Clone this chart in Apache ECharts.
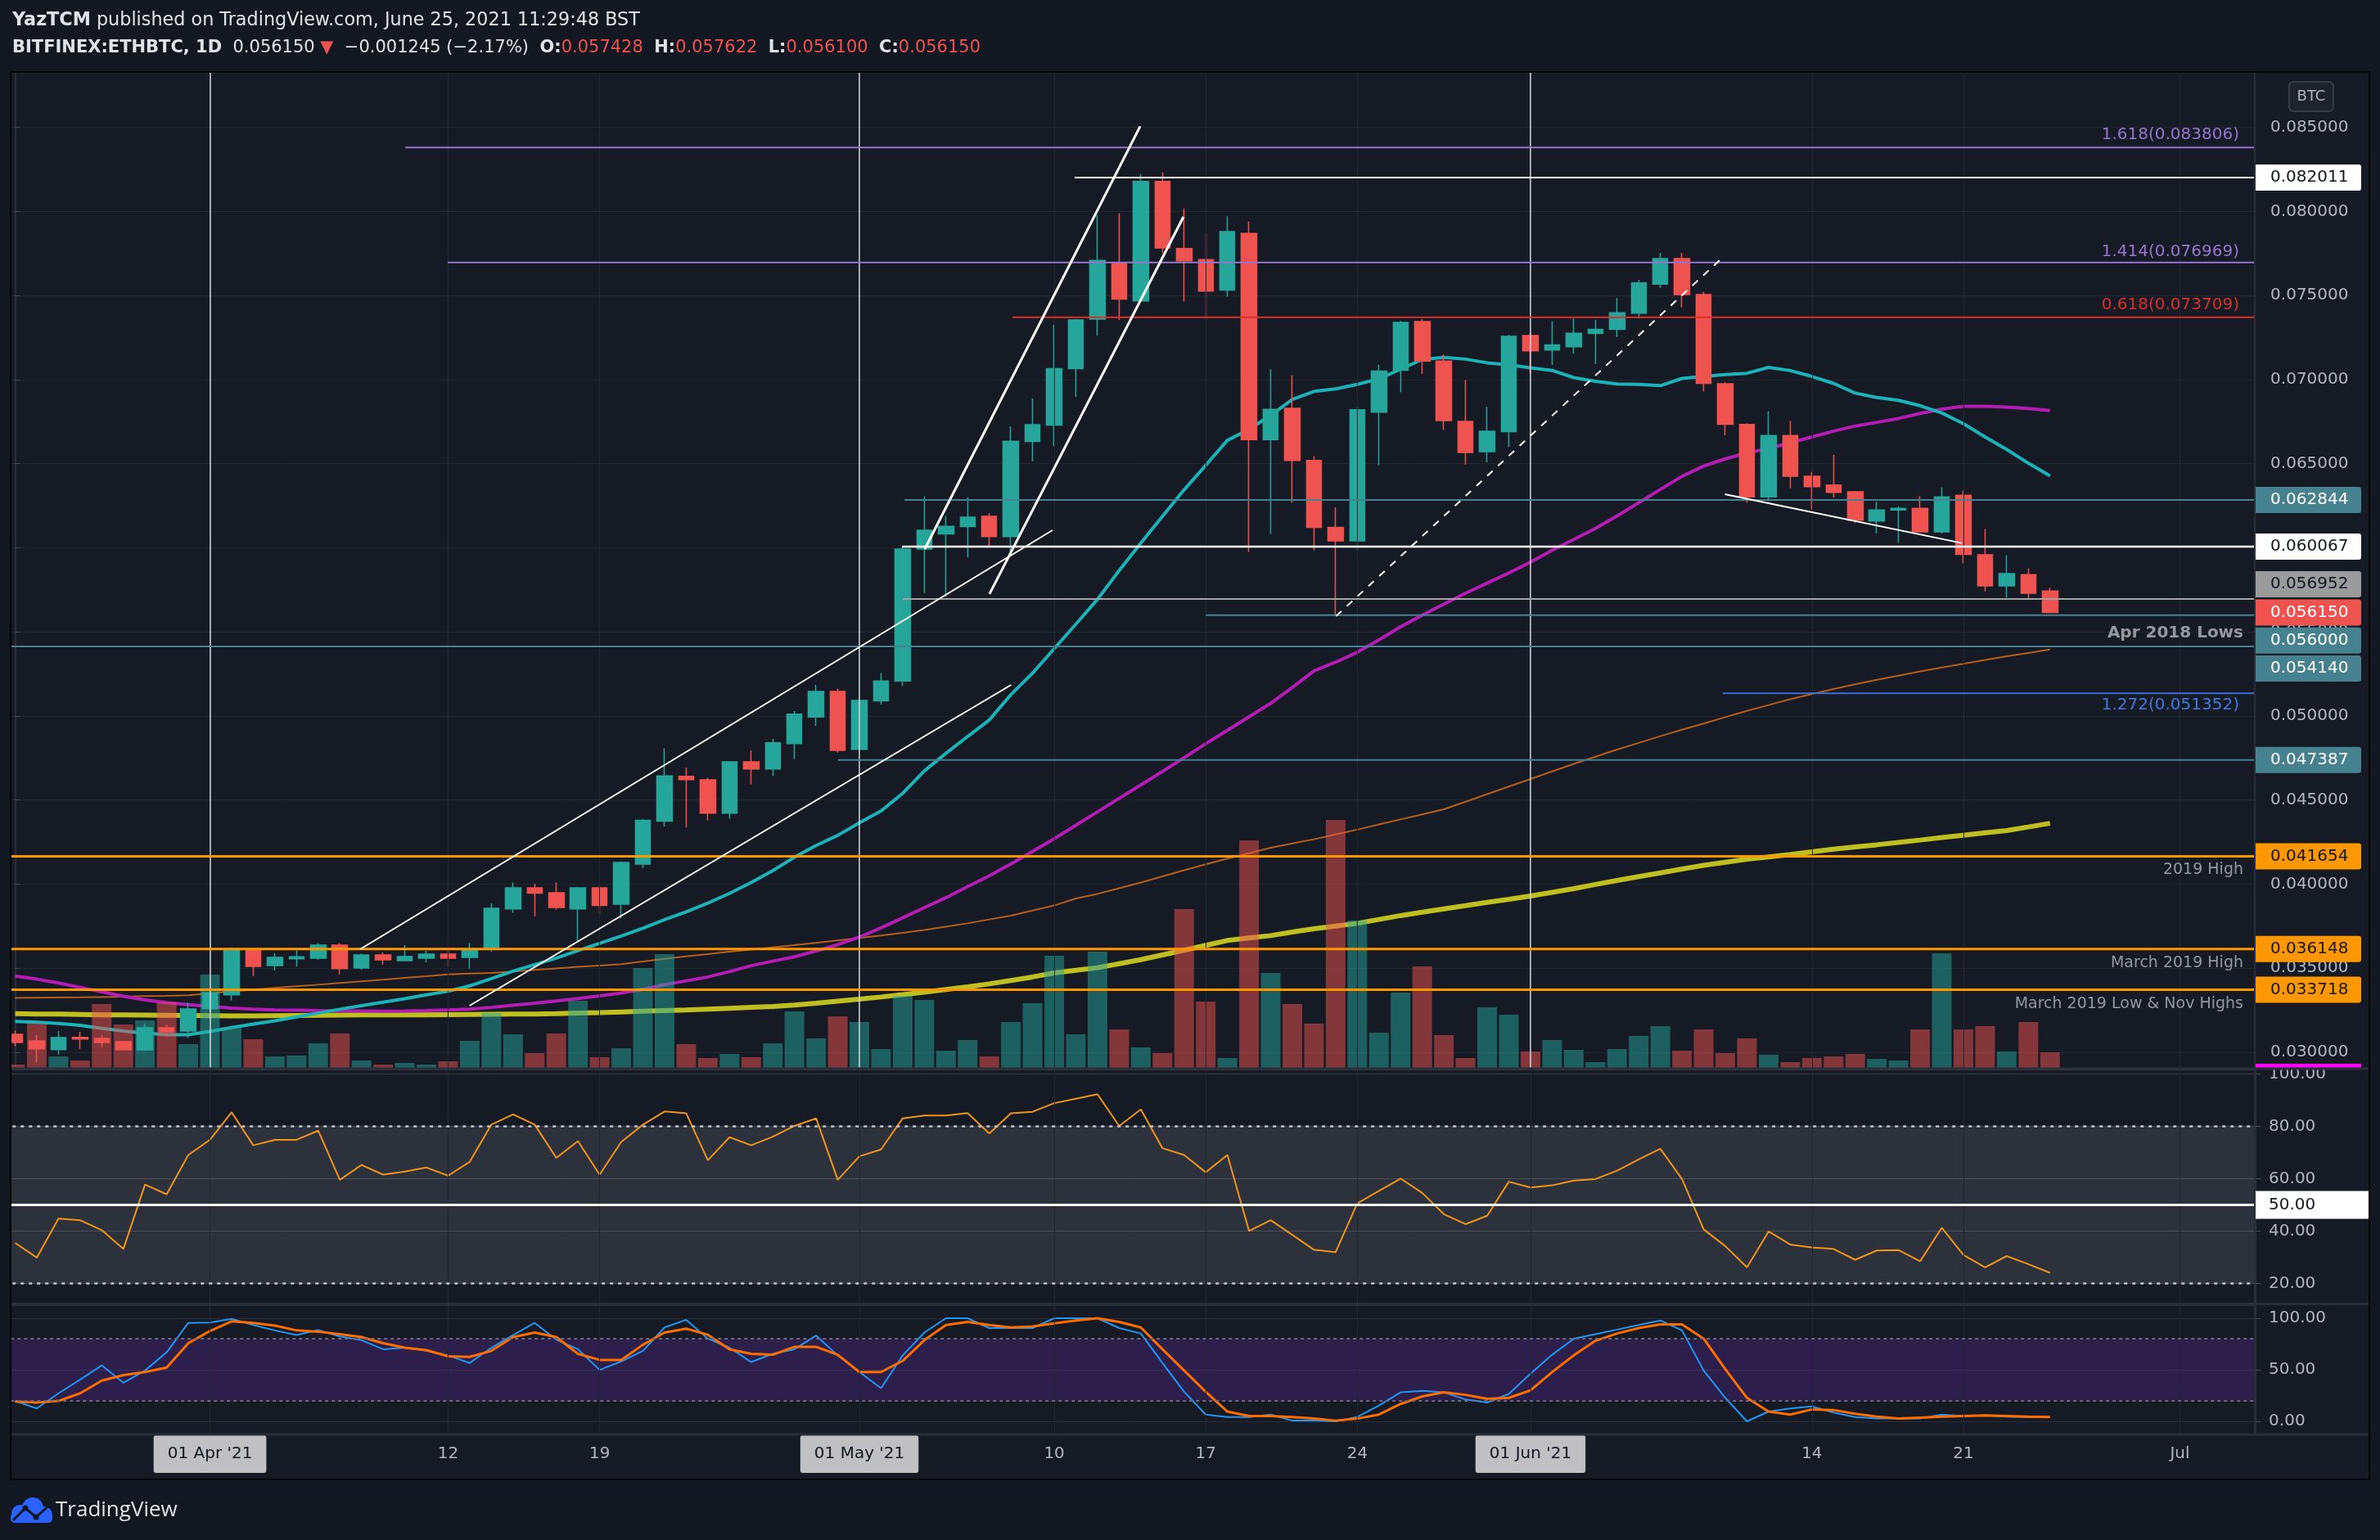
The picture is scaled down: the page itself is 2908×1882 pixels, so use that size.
<!DOCTYPE html>
<html><head><meta charset="utf-8">
<script src="https://cdn.jsdelivr.net/npm/echarts/dist/echarts.min.js"></script>
<style>html,body{margin:0;padding:0;background:#131722;}#c{width:2908px;height:1882px;}</style>
</head><body><div id="c"></div>
<script>
// ---------- categories ----------
const START = Date.UTC(2021, 2, 23);
const N_CAT = 104;
const DATES = [];
for (let i = 0; i < N_CAT; i++) DATES.push(new Date(START + i * 86400000).toISOString().slice(0, 10));

const TICK_DATES  = ['2021-04-01','2021-04-12','2021-04-19','2021-05-01','2021-05-10','2021-05-17','2021-05-24','2021-06-01','2021-06-14','2021-06-21','2021-07-01'];
const TICK_LABELS = ["01 Apr '21",'12','19',"01 May '21",'10','17','24',"01 Jun '21",'14','21','Jul'];
const MONTH_MARKS = ['2021-04-01','2021-05-01','2021-06-01'];

// ---------- price data (ETHBTC daily) ----------
const OPEN = [0.03107,0.03068,0.03016,0.03089,0.03083,0.03063,0.03015,0.03146,0.03126,0.03259,
0.03342,0.03608,0.03516,0.03556,0.03560,0.03637,0.03501,0.03579,0.03545,0.03560,
0.03584,0.03564,0.03616,0.03853,0.03978,0.03949,0.03853,0.03978,0.03881,0.04119,
0.04375,0.04641,0.04620,0.04422,0.04727,0.04685,0.04836,0.04994,0.05146,0.04801,
0.05090,0.05208,0.05993,0.06083,0.06126,0.06187,0.06067,0.06632,0.06730,0.07066,
0.07360,0.07692,0.07468,0.08178,0.07779,0.07714,0.07533,0.07870,0.06643,0.06830,
0.06519,0.06122,0.06041,0.06806,0.07056,0.07345,0.07110,0.06751,0.06571,0.06691,
0.07262,0.07176,0.07196,0.07275,0.07299,0.07395,0.07568,0.07720,0.07506,0.06976,
0.06733,0.06303,0.06668,0.06425,0.06373,0.06333,0.06159,0.06225,0.06234,0.06095,
0.06312,0.05959,0.05773,0.05841,0.057428];
const HIGH = [0.03130,0.03102,0.03126,0.03122,0.03105,0.03068,0.03170,0.03164,0.03295,0.03380,
0.03623,0.03612,0.03589,0.03607,0.03650,0.03650,0.03586,0.03594,0.03637,0.03603,
0.03603,0.03650,0.03885,0.04010,0.04002,0.04010,0.03983,0.03986,0.04135,0.04387,
0.04808,0.04692,0.04631,0.04730,0.04796,0.04864,0.05029,0.05185,0.05162,0.05095,
0.05255,0.06005,0.06306,0.06190,0.06300,0.06206,0.06723,0.06888,0.07327,0.07360,
0.07979,0.07990,0.08222,0.08233,0.08018,0.07870,0.07972,0.07940,0.07062,0.07027,
0.06545,0.06241,0.06838,0.07088,0.07349,0.07360,0.07149,0.06997,0.06838,0.07266,
0.07276,0.07346,0.07366,0.07355,0.07485,0.07593,0.07754,0.07754,0.07523,0.06985,
0.06741,0.06811,0.06755,0.06451,0.06552,0.06338,0.06274,0.06246,0.06308,0.06360,
0.06341,0.06112,0.05956,0.05877,0.057622];
const LOW = [0.03037,0.02943,0.02987,0.03021,0.03032,0.03012,0.03010,0.03094,0.03086,0.03240,
0.03308,0.03454,0.03487,0.03511,0.03550,0.03464,0.03491,0.03522,0.03542,0.03535,
0.03506,0.03498,0.03600,0.03829,0.03809,0.03848,0.03662,0.03824,0.03795,0.04096,
0.04343,0.04336,0.04380,0.04389,0.04594,0.04643,0.04743,0.04941,0.04782,0.04798,
0.05069,0.05178,0.05731,0.05710,0.05941,0.06006,0.05959,0.06513,0.06604,0.06897,
0.07262,0.07355,0.07460,0.07751,0.07464,0.07360,0.07494,0.05976,0.06083,0.06269,
0.05985,0.05594,0.05985,0.06491,0.06925,0.07034,0.06701,0.06495,0.06508,0.06600,
0.07040,0.07088,0.07154,0.07094,0.07254,0.07363,0.07546,0.07429,0.06929,0.06668,
0.06268,0.06277,0.06355,0.06228,0.06298,0.06147,0.06086,0.06029,0.06095,0.06086,
0.05907,0.05742,0.05704,0.05698,0.056100];
const CLOSE = [0.03058,0.03021,0.03088,0.03079,0.03058,0.03016,0.03146,0.03122,0.03258,0.03354,
0.03608,0.03511,0.03564,0.03568,0.03637,0.03498,0.03579,0.03550,0.03569,0.03584,
0.03560,0.03611,0.03856,0.03978,0.03946,0.03861,0.03978,0.03873,0.04129,0.04379,
0.04643,0.04622,0.04422,0.04727,0.04685,0.04841,0.05011,0.05146,0.04796,0.05092,
0.05208,0.05993,0.06104,0.06128,0.06182,0.06067,0.06634,0.06732,0.07066,0.07355,
0.07709,0.07479,0.08178,0.07783,0.07707,0.07527,0.07881,0.06643,0.06823,0.06519,
0.06122,0.06041,0.06821,0.07051,0.07340,0.07110,0.06756,0.06567,0.06693,0.07258,
0.07171,0.07207,0.07276,0.07299,0.07398,0.07575,0.07720,0.07506,0.06978,0.06734,
0.06303,0.06668,0.06425,0.06364,0.06329,0.06164,0.06225,0.06234,0.06095,0.06303,
0.05961,0.05773,0.05846,0.05730,0.056150];
const VOLUME = [4,54,14,9,78,53,58,80,29,114, 50,35,14,15,30,42,9,4,6,4,
8,33,67,41,18,42,82,13,24,122, 139,29,12,17,13,30,69,36,63,56,
23,88,83,21,34,14,56,79,137,41, 142,47,25,18,194,81,12,278,116,78,
54,303,180,43,92,124,40,12,74,65, 20,34,22,7,23,39,51,21,47,18,
36,16,7,12,14,17,11,9,47,140, 47,51,20,56,19];

// ---------- moving averages ----------
const MA20 = [0.03184,0.03179,0.03172,0.03161,0.03142,0.03126,0.03114,0.03105,0.03105,0.03124,
0.03147,0.03168,0.03187,0.03210,0.03233,0.03256,0.03277,0.03298,0.03319,0.03342,
0.03363,0.03395,0.03438,0.03482,0.03521,0.03560,0.03605,0.03648,0.03692,0.03738,
0.03789,0.03835,0.03887,0.03945,0.04010,0.04080,0.04160,0.04230,0.04290,0.04365,
0.04435,0.04540,0.04673,0.04778,0.04878,0.04976,0.05127,0.05255,0.05400,0.05546,
0.05694,0.05865,0.06028,0.06187,0.06345,0.06491,0.06639,0.06704,0.06788,0.06882,
0.06930,0.06945,0.06972,0.07005,0.07062,0.07120,0.07132,0.07122,0.07100,0.07088,
0.07070,0.07055,0.07012,0.06990,0.06974,0.06972,0.06964,0.07007,0.07019,0.07030,
0.07038,0.07073,0.07054,0.07019,0.06978,0.06920,0.06894,0.06877,0.06845,0.06802,
0.06738,0.06659,0.06585,0.06503,0.06428];
const MA50 = [0.03454,0.03435,0.03412,0.03386,0.03360,0.03333,0.03311,0.03296,0.03283,0.03272,
0.03263,0.03257,0.03252,0.03250,0.03248,0.03247,0.03246,0.03245,0.03246,0.03248,
0.03252,0.03257,0.03267,0.03280,0.03292,0.03305,0.03320,0.03336,0.03353,0.03375,
0.03402,0.03425,0.03448,0.03480,0.03515,0.03542,0.03568,0.03603,0.03640,0.03685,
0.03740,0.03800,0.03860,0.03920,0.03985,0.04050,0.04120,0.04195,0.04270,0.04350,
0.04430,0.04510,0.04590,0.04670,0.04752,0.04835,0.04915,0.04995,0.05075,0.05170,
0.05268,0.05320,0.05379,0.05452,0.05530,0.05600,0.05665,0.05730,0.05790,0.05850,
0.05915,0.05985,0.06050,0.06115,0.06190,0.06268,0.06347,0.06425,0.06486,0.06529,
0.06564,0.06590,0.06625,0.06659,0.06694,0.06724,0.06746,0.06769,0.06799,0.06825,
0.06842,0.06842,0.06837,0.06828,0.06816];
const MA100 = [0.03324,0.03325,0.03326,0.03327,0.03329,0.03331,0.03334,0.03336,0.03339,0.03350,
0.03362,0.03372,0.03383,0.03393,0.03402,0.03412,0.03422,0.03432,0.03443,0.03453,
0.03464,0.03468,0.03472,0.03481,0.03490,0.03499,0.03508,0.03516,0.03524,0.03540,
0.03556,0.03570,0.03584,0.03598,0.03611,0.03624,0.03637,0.03651,0.03665,0.03680,
0.03694,0.03710,0.03727,0.03747,0.03767,0.03790,0.03813,0.03843,0.03873,0.03915,
0.03942,0.03976,0.04010,0.04046,0.04083,0.04118,0.04152,0.04184,0.04216,0.04242,
0.04267,0.04296,0.04324,0.04355,0.04385,0.04415,0.04445,0.04490,0.04535,0.04580,
0.04625,0.04670,0.04715,0.04758,0.04800,0.04840,0.04880,0.04918,0.04955,0.04993,
0.05030,0.05065,0.05100,0.05130,0.05160,0.05188,0.05215,0.05240,0.05265,0.05288,
0.05310,0.05333,0.05355,0.05375,0.05395];
const MA200 = [0.03230,0.03228,0.03227,0.03225,0.03223,0.03222,0.03221,0.03220,0.03219,0.03218,
0.03217,0.03217,0.03218,0.03219,0.03220,0.03221,0.03222,0.03222,0.03223,0.03223,
0.03224,0.03225,0.03226,0.03227,0.03228,0.03230,0.03233,0.03236,0.03240,0.03244,
0.03248,0.03252,0.03257,0.03262,0.03267,0.03272,0.03281,0.03292,0.03304,0.03316,
0.03329,0.03343,0.03358,0.03373,0.03389,0.03407,0.03427,0.03448,0.03472,0.03488,
0.03503,0.03527,0.03551,0.03579,0.03607,0.03636,0.03665,0.03680,0.03694,0.03715,
0.03735,0.03751,0.03767,0.03790,0.03813,0.03833,0.03853,0.03872,0.03892,0.03910,
0.03929,0.03951,0.03973,0.03998,0.04022,0.04045,0.04067,0.04090,0.04112,0.04130,
0.04148,0.04162,0.04176,0.04192,0.04208,0.04221,0.04234,0.04248,0.04262,0.04277,
0.04291,0.04305,0.04319,0.04340,0.04362];

// ---------- oscillators ----------
const RSI = [35.5,29.9,44.8,44.2,40.4,33.2,57.8,54.1,69.1,74.9, 85.4,72.8,74.9,74.9,78.4,59.6,65.3,61.6,62.8,64.3,
61.2,66.5,80.7,84.6,80.7,68.0,74.4,61.6,74.1,80.7, 85.7,85.0,67.1,75.9,72.8,76.1,80.2,83.1,59.6,68.6,
71.2,83.1,84.2,84.2,85.1,77.3,85.0,85.6,88.9,90.6, 92.3,80.2,86.5,71.7,69.1,62.5,69.1,40.1,44.2,38.6,
32.9,32.0,50.6,55.4,60.1,54.6,46.5,42.7,45.9,58.9, 56.7,57.5,59.3,59.9,63.1,67.4,71.5,59.9,40.7,34.3,
26.2,39.9,34.9,33.8,33.2,29.1,32.6,32.8,28.5,41.3, 30.9,26.2,30.5,27.4,24.1];
const STOCH_K = [19.8,12.5,27.2,40.4,54.3,37.5,49.3,67.0,95.5,95.8, 99.4,93.5,88.2,83.7,88.5,82.3,78.7,69.9,71.4,68.4,
64.0,56.6,71.4,83.7,95.5,79.3,69.9,49.9,58.1,68.4, 91.1,98.5,80.2,71.4,57.5,65.5,69.9,83.2,64.0,47.8,
32.2,64.0,86.1,100,100,90.5,90.5,90.5,100,100, 100,90.5,85.2,56.6,28.7,6.6,4.2,4.2,6.6,0.7,
0.7,0,4.2,15.4,28.1,29.6,28.1,21.3,18.3,26.6, 46.3,64.6,80.2,84.6,89.0,93.5,97.9,88.2,49.3,22.8,
0,9.5,12.5,14.5,8.6,4.2,2.7,2.7,2.7,6.6, 5.1,5.7,4.5,4.2,4.2];
const STOCH_D = [19.2,18.3,19.8,27.2,39.5,44.9,47.8,52.2,75.8,87.6, 97.0,95.5,92.9,88.2,87.0,84.6,81.7,75.8,71.4,69.0,
63.1,62.5,68.4,81.7,86.1,81.7,65.5,59.6,59.6,74.3, 86.1,89.9,84.0,69.9,65.5,64.6,72.3,72.3,64.6,47.8,
47.8,58.7,78.7,93.5,96.4,93.5,91.1,92.0,95.0,97.9, 100,96.4,91.1,69.9,49.3,28.7,9.5,5.1,5.1,4.2,
2.7,0.7,2.7,6.6,16.9,24.2,28.1,25.7,21.9,22.8, 30.1,47.8,64.0,78.1,85.2,90.5,94.0,94.0,80.2,50.7,
22.8,9.5,6.6,11.6,11.0,7.4,4.5,2.7,3.6,4.5, 5.1,5.7,5.1,4.5,4.2];

// ---------- drawn levels (price) and where they start (day index) ----------
const LEVEL_NAMES  = ['fib1618','high','fib1414','fib0618','r1','r2','s1','apr2018','s2','fib1272','s3','h2019','mar2019h','mar2019l'];
const LEVEL_PRICES = [0.083806,0.082011,0.076969,0.073709,0.062844,0.060067,0.056952,0.056000,0.054140,0.051352,0.047387,0.041654,0.036148,0.033718];
const LEVEL_START  = [18.02,48.94,19.98,46.07,41.08,40.97,41.0,54.99,-0.5,78.88,38.01,-0.5,-0.5,-0.5];
const LAST_PRICE = 0.056150;

// trend lines: [dayIndex, price] pairs
const TREND_LINES = [
  [[15.94,0.036130],[47.92,0.061044]],
  [[20.99,0.032773],[46.01,0.051847]],
  [[42.02,0.059925],[51.97,0.085063]],
  [[45.01,0.057258],[53.97,0.079681]],
  [[78.98,0.063185],[89.92,0.060285]]
];
const DASHED_LINE = [[61.02,0.055935],[78.92,0.077316]];

// ---------- styles ----------
const UP = '#26a69a', DN = '#ef5350';
const GRIDC = '#22262f';
const FONT = 'DejaVu Sans';
const LEVEL_STYLE = {
  fib1618:['#9575cd',2], high:['#ffffff',2], fib1414:['#9575cd',2], fib0618:['#d9302c',2],
  r1:['#45818e',2], r2:['#ffffff',2.5], s1:['#a3a3a3',2], apr2018:['#45818e',2], s2:['#45818e',2],
  fib1272:['#3f6fd6',2], s3:['#45818e',2], h2019:['#ff9800',3], mar2019h:['#ff9800',3], mar2019l:['#ff9800',3]
};
const X_END = 103.5;

const chart = echarts.init(document.getElementById('c'), null, {renderer:'canvas', width:2908, height:1882});

const gridBase = {left:5.275, right:151.925, containLabel:false, outerBoundsMode:'none'};
const catAxis = (gi, extra) => Object.assign({
  type:'category', gridIndex:gi, data:DATES, boundaryGap:true,
  axisLine:{show:false}, axisTick:{show:false}, axisLabel:{show:false}, splitLine:{show:false}
}, extra || {});

const tickMap = {};
TICK_DATES.forEach((d,i)=>tickMap[d] = TICK_LABELS[i]);

const vGrid = (color) => TICK_DATES.map(d => ({xAxis:d, lineStyle:{color: color, width:1, type:'solid'}}));

const mainVLines = TICK_DATES.map(d => MONTH_MARKS.includes(d)
  ? {xAxis:d, lineStyle:{color:'#d6d8de', width:1.5, type:'solid'}}
  : {xAxis:d, lineStyle:{color:GRIDC, width:1, type:'solid'}});

const lineSeries = (name, data, color, width, z, extra) => Object.assign({
  name, type:'line', xAxisIndex:0, yAxisIndex:0, data, symbol:'none', showSymbol:false,
  lineStyle:{color, width}, z, silent:true
}, extra || {});

const series = [];
series.push(lineSeries('MA200', MA200, '#bfbf1f', 6, 1, {
  markLine:{silent:true, symbol:['none','none'], label:{show:false}, animation:false, data: mainVLines}
}));
series.push(lineSeries('MA100', MA100, '#b55f1d', 2, 1));
series.push(lineSeries('MA50', MA50, '#b41db4', 4, 1));
series.push(lineSeries('MA20', MA20, '#1cb3b8', 4, 1));
series.push({
  name:'Volume', type:'bar', xAxisIndex:0, yAxisIndex:1, barWidth:24, z:3, silent:true,
  data: VOLUME.map((v,i)=>({value:v, itemStyle:{color: CLOSE[i] >= OPEN[i] ? 'rgba(38,166,154,0.5)' : 'rgba(239,83,80,0.5)'}}))
});
series.push({
  name:'ETHBTC', type:'candlestick', xAxisIndex:0, yAxisIndex:0, barWidth:19, z:4, silent:true,
  data: OPEN.map((o,i)=>[o, CLOSE[i], LOW[i], HIGH[i]]),
  itemStyle:{color:UP, color0:DN, borderColor:UP, borderColor0:DN, borderWidth:1.5}
});
LEVEL_NAMES.forEach((n,i)=>{
  const st = LEVEL_STYLE[n];
  series.push({
    name:n, type:'line', xAxisIndex:3, yAxisIndex:0, symbol:'none', silent:true, z:5,
    data:[[LEVEL_START[i], LEVEL_PRICES[i]],[X_END, LEVEL_PRICES[i]]],
    lineStyle:{color:st[0], width:st[1]}
  });
});
TREND_LINES.forEach((tl,i)=>{
  series.push({
    name:'trend'+i, type:'line', xAxisIndex:3, yAxisIndex:0, symbol:'none', silent:true, z:6,
    data: tl, lineStyle:{color:'#ffffff', width: i>=2 && i<=3 ? 3 : 2}
  });
});
series.push({
  name:'dashed', type:'line', xAxisIndex:3, yAxisIndex:0, symbol:'none', silent:true, z:6,
  data: DASHED_LINE, lineStyle:{color:'#ffffff', width:2, type:[9,9]}
});
// RSI pane
series.push({
  name:'RSI', type:'line', xAxisIndex:1, yAxisIndex:2, data:RSI, symbol:'none', silent:true, z:4,
  lineStyle:{color:'#ee951b', width:2},
  markArea:{silent:true, itemStyle:{color:'rgba(255,255,255,0.1)'}, data:[[{yAxis:80},{yAxis:20}]]},
  markLine:{silent:true, symbol:['none','none'], label:{show:false}, animation:false, data:
    vGrid(GRIDC).concat([
      {yAxis:80, lineStyle:{color:'#c3c5cb', width:2.5, type:[4,6]}},
      {yAxis:20, lineStyle:{color:'#c3c5cb', width:2.5, type:[4,6]}},
      {yAxis:50, lineStyle:{color:'#ffffff', width:3, type:'solid'}}
    ])}
});
// Stoch RSI pane
series.push({
  name:'%K', type:'line', xAxisIndex:2, yAxisIndex:3, data:STOCH_K, symbol:'none', silent:true, z:4,
  lineStyle:{color:'#2196f3', width:2},
  markArea:{silent:true, itemStyle:{color:'rgba(120,50,200,0.24)'}, data:[[{yAxis:80},{yAxis:20}]]},
  markLine:{silent:true, symbol:['none','none'], label:{show:false}, animation:false, data:
    vGrid(GRIDC).concat([
      {yAxis:80, lineStyle:{color:'#6d6a80', width:2, type:[4,4]}},
      {yAxis:20, lineStyle:{color:'#6d6a80', width:2, type:[4,4]}}
    ])}
});
series.push({
  name:'%D', type:'line', xAxisIndex:2, yAxisIndex:3, data:STOCH_D, symbol:'none', silent:true, z:4,
  lineStyle:{color:'#ff6d00', width:3}
});

const multipleLabel = (step, dec) => v => {
  const k = v / step;
  return Math.abs(k - Math.round(k)) < 1e-6 ? v.toFixed(dec) : '';
};

const option = {
  animation:false,
  backgroundColor:'#161a25',
  grid:[
    Object.assign({top:89, height:1216}, gridBase),
    Object.assign({top:1307, height:285}, gridBase),
    Object.assign({top:1595, height:157}, gridBase)
  ],
  xAxis:[
    catAxis(0), catAxis(1),
    catAxis(2, {
      axisLabel:{show:true, interval:(i,v)=>tickMap[v]!==undefined, margin:2,
        formatter:(v)=> MONTH_MARKS.includes(v) ? '{box|'+tickMap[v]+'}' : '{n|'+tickMap[v]+'}',
        rich:{
          box:{backgroundColor:'#c0c0c2', color:'#131722', padding:[13,17,13,17], borderRadius:3, fontSize:20, fontFamily:FONT},
          n:{color:'#b2b5be', padding:[13,0,13,0], fontSize:20, fontFamily:FONT}
        }},
      axisTick:{show:true, alignWithLabel:true, interval:(i,v)=>tickMap[v]!==undefined, length:10, lineStyle:{color:'#2a2e39'}}
    }),
    {type:'value', gridIndex:0, min:-0.5, max:X_END, show:false}
  ],
  yAxis:[
    {type:'value', gridIndex:0, position:'right', min:0.029075, max:0.088245, minInterval:0.005, maxInterval:0.005, splitNumber:12, scale:true,
      axisLine:{show:true, lineStyle:{color:'#2a2e39', width:2}},
      axisTick:{show:true, length:6, lineStyle:{color:'#4a4e59'}},
      axisLabel:{show:true, margin:18, color:'#b2b5be', fontSize:20, fontFamily:FONT, formatter:multipleLabel(0.005,6), showMinLabel:false, showMaxLabel:false},
      splitLine:{show:true, lineStyle:{color:GRIDC, width:1}}},
    {type:'value', gridIndex:0, min:0, max:1216, show:false, splitLine:{show:false}},
    {type:'value', gridIndex:1, position:'right', min:12.69, max:101.75, minInterval:20, maxInterval:20, scale:true,
      axisLine:{show:true, lineStyle:{color:'#2a2e39', width:2}},
      axisTick:{show:true, length:6, lineStyle:{color:'#4a4e59'}},
      axisLabel:{show:true, margin:16, color:'#b2b5be', fontSize:20, fontFamily:FONT, formatter:multipleLabel(20,2), showMinLabel:false, showMaxLabel:false},
      splitLine:{show:true, lineStyle:{color:'#3a3e4a', width:1}}},
    {type:'value', gridIndex:2, position:'right', min:-11.9, max:112.7, minInterval:50, maxInterval:50, scale:true,
      axisLine:{show:true, lineStyle:{color:'#2a2e39', width:2}},
      axisTick:{show:true, length:6, lineStyle:{color:'#4a4e59'}},
      axisLabel:{show:true, margin:16, color:'#b2b5be', fontSize:20, fontFamily:FONT, formatter:multipleLabel(50,2), showMinLabel:false, showMaxLabel:false},
      splitLine:{show:true, lineStyle:{color:'#2a2e39', width:1}}}
  ],
  series
};
chart.setOption(option);

// ---------- annotations positioned through the axes ----------
const py = v => chart.convertToPixel({yAxisIndex:0}, v);
const ry = v => chart.convertToPixel({yAxisIndex:2}, v);
const G = [];
const txt = (x, y, text, fill, size, align, weight, z, family) => ({
  type:'text', x, y, z: z||60, silent:true,
  style:{text, fill, fontSize:size, fontFamily:family||FONT, fontWeight:weight||'normal',
    align:align||'left', textAlign:align||'left', verticalAlign:'middle', textVerticalAlign:'middle'}
});
const rect = (x,y,w,h,fill,z,r,stroke,lw) => ({type:'rect', z:z||60, silent:true,
  shape:{x,y,width:w,height:h,r:r||0}, style:{fill, stroke:stroke||null, lineWidth:lw||0}});

// outer margins
G.push(rect(0,0,2908,88,'#131722',90));
G.push(rect(0,1808,2908,74,'#131722',90));
G.push(rect(0,0,13,1882,'#131722',90));
G.push(rect(2895,0,13,1882,'#131722',90));
G.push({type:'rect', z:95, silent:true, shape:{x:13,y:88,width:2882,height:1720}, style:{fill:null, stroke:'#050608', lineWidth:2}});
// pane separators
[1306,1593.5,1753].forEach(y=>G.push({type:'line', z:80, silent:true, shape:{x1:13,y1:y,x2:2895,y2:y}, style:{stroke:'#2a2e39', lineWidth:3}}));
G.push({type:'line', z:80, silent:true, shape:{x1:2755,y1:88,x2:2755,y2:1753}, style:{stroke:'#2a2e39', lineWidth:2}});

// level captions
G.push(txt(2736, py(0.083806)-15, '1.618(0.083806)', '#9575cd', 20, 'right'));
G.push(txt(2736, py(0.076969)-13, '1.414(0.076969)', '#9575cd', 20, 'right'));
G.push(txt(2736, py(0.073709)-15, '0.618(0.073709)', '#d9302c', 20, 'right'));
G.push(txt(2736, py(0.051352)+15, '1.272(0.051352)', '#3f7ae0', 20, 'right'));
G.push(txt(2741, py(0.056000)+22, 'Apr 2018 Lows', '#9598a1', 20, 'right', 'bold'));
G.push(txt(2741, py(0.041654)+17, '2019 High', '#9598a1', 19, 'right'));
G.push(txt(2741, py(0.036148)+17, 'March 2019 High', '#9598a1', 19, 'right'));
G.push(txt(2741, py(0.033718)+17, 'March 2019 Low & Nov Highs', '#9598a1', 19, 'right'));

// price-axis boxes
const BOXES = [
  [0.082011,'#ffffff','#131722',0],[0.062844,'#45818e','#ffffff',0],[0.060067,'#ffffff','#131722',0],
  [0.056952,'#9b9b9b','#131722',-18],[LAST_PRICE,'#ef5350','#ffffff',0],[0.056000,'#45818e','#ffffff',31],
  [0.054140,'#45818e','#ffffff',27],[0.047387,'#45818e','#ffffff',0],[0.041654,'#ff9800','#131722',0],
  [0.036148,'#ff9800','#131722',0],[0.033718,'#ff9800','#131722',0]
];
BOXES.forEach(b=>{
  const cy = py(b[0]) + b[3];
  G.push(rect(2755, cy-16, 130, 32, b[1], 70, [0,3,3,0]));
  G.push(txt(2774, cy, b[0].toFixed(6), b[2], 20, 'left', 'normal', 71));
});
// BTC unit box
G.push(rect(2797,100,54,36,'#1e222d',70,5,'#434651',1.5));
G.push(txt(2824,118,'BTC','#b2b5be',18,'center','normal',71));
// magenta marker at pane bottom
G.push(rect(2755,1300,130,5,'#ff00ff',70));
// RSI 50 box
const y50 = ry(50);
G.push(rect(2755, y50-17, 142, 34, '#ffffff', 70, [0,3,3,0]));
G.push(txt(2772, y50, '50.00', '#131722', 20, 'left', 'normal', 71));

// header
G.push({type:'text', x:15, y:25, z:100, silent:true, style:{
  text:'{b|YazTCM} published on TradingView.com, June 25, 2021 11:29:48 BST',
  fill:'#e1e3ea', fontSize:22.3, fontFamily:FONT, verticalAlign:'middle', textVerticalAlign:'middle',
  rich:{b:{fontWeight:'bold', fill:'#e1e3ea', fontSize:22.3, fontFamily:FONT}}}});
G.push({type:'text', x:15, y:59, z:100, silent:true, style:{
  text:'{b|BITFINEX:ETHBTC, 1D}  0.056150 {r|▼}  −0.001245 (−2.17%)  {b|O:}{r|0.057428}  {b|H:}{r|0.057622}  {b|L:}{r|0.056100}  {b|C:}{r|0.056150}',
  fill:'#e1e3ea', fontSize:21, fontFamily:FONT, verticalAlign:'middle', textVerticalAlign:'middle',
  rich:{b:{fontWeight:'bold', fill:'#e1e3ea', fontSize:21, fontFamily:FONT}, r:{fill:'#ef5350', fontSize:21, fontFamily:FONT}}}});

// TradingView logo
const LOGO = '#2962ff';
G.push({type:'circle', z:100, silent:true, shape:{cx:25, cy:1850, r:11}, style:{fill:LOGO}});
G.push({type:'circle', z:100, silent:true, shape:{cx:40, cy:1843, r:13}, style:{fill:LOGO}});
G.push({type:'circle', z:100, silent:true, shape:{cx:54, cy:1851, r:10}, style:{fill:LOGO}});
G.push(rect(13,1849,51,12,LOGO,100,5));
G.push({type:'polyline', z:101, silent:true, shape:{points:[[16,1858],[31,1843],[44,1854],[62,1838]]}, style:{stroke:'#131722', lineWidth:3, fill:null}});
G.push({type:'circle', z:102, silent:true, shape:{cx:31, cy:1843, r:3.5}, style:{fill:'#131722'}});
G.push({type:'circle', z:102, silent:true, shape:{cx:44, cy:1854, r:3.5}, style:{fill:'#131722'}});
G.push(txt(68, 1846, 'TradingView', '#e1e3ea', 26, 'left', 'normal', 100, 'Open Sans'));

chart.setOption({graphic: G});
</script></body></html>
